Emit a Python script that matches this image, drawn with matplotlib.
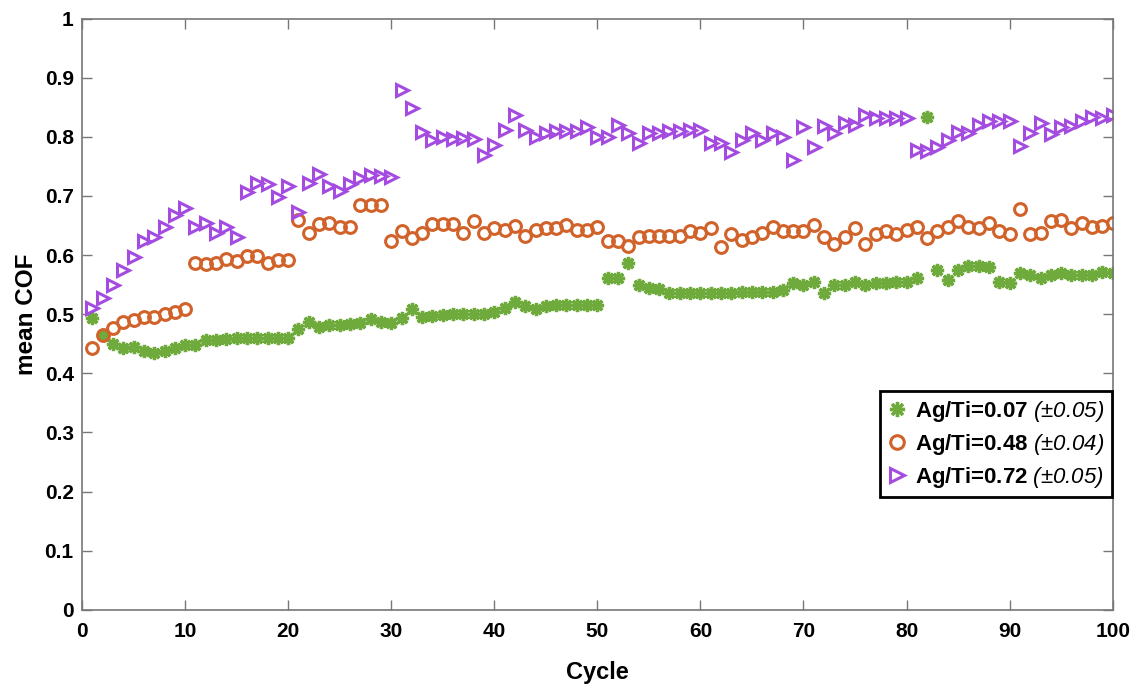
import matplotlib
matplotlib.use("Agg")
import matplotlib.pyplot as plt

# mean COF per cycle
cycles = list(range(1, 101))

cof_007 = [0.494, 0.465, 0.450, 0.443, 0.444, 0.437, 0.435, 0.437, 0.442, 0.448,
           0.448, 0.457, 0.457, 0.458, 0.459, 0.459, 0.459, 0.459, 0.459, 0.460,
           0.475, 0.486, 0.479, 0.481, 0.481, 0.483, 0.485, 0.492, 0.486, 0.485,
           0.494, 0.509, 0.495, 0.497, 0.498, 0.500, 0.500, 0.500, 0.500, 0.503,
           0.511, 0.521, 0.513, 0.509, 0.513, 0.515, 0.515, 0.515, 0.515, 0.515,
           0.561, 0.561, 0.587, 0.550, 0.545, 0.543, 0.536, 0.536, 0.536, 0.536,
           0.536, 0.535, 0.536, 0.538, 0.538, 0.538, 0.538, 0.541, 0.553, 0.550,
           0.555, 0.535, 0.550, 0.550, 0.555, 0.550, 0.552, 0.552, 0.555, 0.555,
           0.561, 0.834, 0.575, 0.557, 0.575, 0.582, 0.582, 0.579, 0.555, 0.553,
           0.570, 0.567, 0.562, 0.567, 0.570, 0.567, 0.567, 0.567, 0.572, 0.570]

cof_048 = [0.443, 0.465, 0.477, 0.486, 0.490, 0.496, 0.496, 0.500, 0.504, 0.509,
           0.587, 0.585, 0.587, 0.594, 0.590, 0.598, 0.598, 0.587, 0.592, 0.592,
           0.660, 0.638, 0.653, 0.655, 0.648, 0.648, 0.684, 0.684, 0.684, 0.624,
           0.641, 0.629, 0.638, 0.653, 0.653, 0.652, 0.638, 0.658, 0.637, 0.646,
           0.643, 0.650, 0.633, 0.643, 0.645, 0.645, 0.651, 0.642, 0.643, 0.648,
           0.623, 0.623, 0.615, 0.631, 0.632, 0.633, 0.633, 0.632, 0.640, 0.638,
           0.646, 0.613, 0.635, 0.626, 0.631, 0.638, 0.648, 0.640, 0.640, 0.640,
           0.651, 0.631, 0.618, 0.631, 0.646, 0.618, 0.635, 0.640, 0.635, 0.643,
           0.648, 0.629, 0.640, 0.648, 0.657, 0.648, 0.645, 0.655, 0.640, 0.635,
           0.678, 0.636, 0.638, 0.657, 0.660, 0.645, 0.655, 0.647, 0.650, 0.655]

cof_072 = [0.511, 0.528, 0.550, 0.575, 0.597, 0.623, 0.631, 0.648, 0.668, 0.680,
           0.648, 0.655, 0.638, 0.648, 0.631, 0.707, 0.722, 0.720, 0.699, 0.716,
           0.673, 0.722, 0.737, 0.716, 0.709, 0.720, 0.730, 0.735, 0.734, 0.732,
           0.880, 0.848, 0.809, 0.795, 0.800, 0.797, 0.798, 0.797, 0.770, 0.787,
           0.812, 0.837, 0.812, 0.800, 0.807, 0.810, 0.810, 0.810, 0.817, 0.800,
           0.800, 0.820, 0.807, 0.790, 0.807, 0.807, 0.810, 0.810, 0.812, 0.812,
           0.790, 0.790, 0.775, 0.795, 0.807, 0.795, 0.807, 0.800, 0.761, 0.816,
           0.782, 0.818, 0.807, 0.824, 0.820, 0.837, 0.832, 0.832, 0.832, 0.832,
           0.778, 0.776, 0.782, 0.795, 0.809, 0.807, 0.820, 0.826, 0.826, 0.826,
           0.784, 0.807, 0.824, 0.804, 0.816, 0.818, 0.826, 0.834, 0.832, 0.837]

names = ["Ag/Ti=0.07", "Ag/Ti=0.48", "Ag/Ti=0.72"]
errs = ["0.05", "0.04", "0.05"]
labels = [n + r" $\mathrm{(\pm" + e + ")}$" for n, e in zip(names, errs)]

plt.rcParams["font.family"] = ["Liberation Sans", "DejaVu Sans"]
plt.rcParams["mathtext.fontset"] = "custom"
# italic for the (±...) part of the legend
plt.rcParams["mathtext.rm"] = "Liberation Sans:italic"
plt.rcParams["mathtext.it"] = "Liberation Sans:italic"

fig = plt.figure(figsize=(11.4, 6.89), dpi=100)
ax = fig.add_axes([0.072, 0.115, 0.904, 0.858])

ax.plot(cycles, cof_007, ls="none", marker=(8, 2, 0), ms=9.5, color="#6FAA3C",
        mec="#6FAA3C", mew=2.4, label=labels[0])
ax.plot(cycles, cof_048, ls="none", marker="o", ms=8.5, mfc="none",
        mec="#D0622A", mew=2.2, label=labels[1])
ax.plot(cycles, cof_072, ls="none", marker=">", ms=8.5, mfc="none",
        mec="#A54CE0", mew=2.2, label=labels[2])

ax.set_xlim(0, 100)
ax.set_ylim(0, 1)
ax.set_xticks(range(0, 101, 10))
ax.set_yticks([i / 10 for i in range(11)])
ax.set_yticklabels(["0", "0.1", "0.2", "0.3", "0.4", "0.5", "0.6", "0.7", "0.8", "0.9", "1"])
ax.tick_params(direction="in", length=7, width=1, color="#777777",
               top=True, right=True, labelsize=15)
ax.tick_params(axis="x", pad=9)
ax.tick_params(axis="y", pad=6)
for lab in ax.get_xticklabels() + ax.get_yticklabels():
    lab.set_fontweight("bold")
for sp in ax.spines.values():
    sp.set_color("#777777")
    sp.set_linewidth(1.2)

ax.set_xlabel("Cycle", fontsize=17, fontweight="bold", labelpad=14)
ax.set_ylabel("mean COF", fontsize=17.5, fontweight="bold", labelpad=5)

leg = ax.legend(loc="lower right", bbox_to_anchor=(0.999, 0.19),
                prop={"weight": "bold", "size": 16}, frameon=True, fancybox=False,
                handlelength=0.8, handletextpad=0.4, borderpad=0.35,
                labelspacing=0.35, borderaxespad=0, framealpha=1, markerscale=1.15)
leg.get_frame().set_edgecolor("black")
leg.get_frame().set_linewidth(2)

fig.savefig("out.png", dpi=100)
